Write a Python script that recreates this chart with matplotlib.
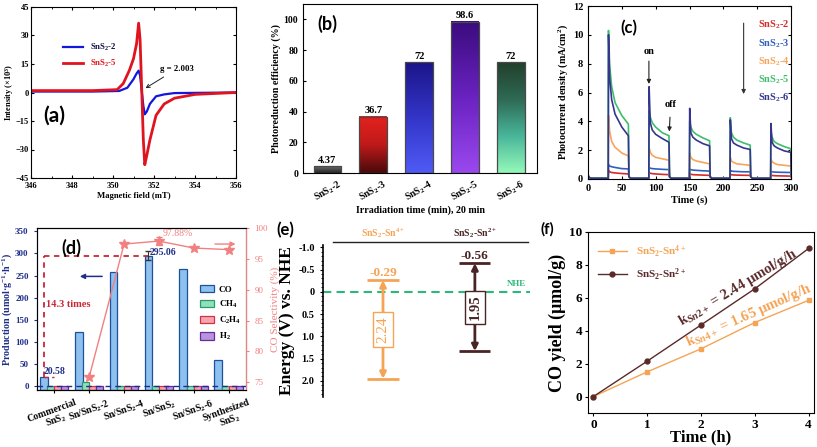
import numpy as np
import matplotlib
matplotlib.use('Agg')
import matplotlib.pyplot as plt
from matplotlib.colors import LinearSegmentedColormap
from matplotlib.ticker import MultipleLocator

plt.rcParams['font.family'] = ['Liberation Serif', 'DejaVu Serif']
plt.rcParams['font.weight'] = 'bold'
plt.rcParams['axes.labelweight'] = 'bold'
plt.rcParams['mathtext.fontset'] = 'custom'
plt.rcParams['mathtext.rm'] = 'Liberation Serif:bold'
plt.rcParams['mathtext.it'] = 'Liberation Serif:italic:bold'
plt.rcParams['mathtext.bf'] = 'Liberation Serif:bold'
plt.rcParams['xtick.direction'] = 'in'
plt.rcParams['ytick.direction'] = 'in'
plt.rcParams['axes.linewidth'] = 0.8
plt.rcParams['xtick.major.size'] = 2.5
plt.rcParams['ytick.major.size'] = 2.5
plt.rcParams['xtick.minor.size'] = 1.5
plt.rcParams['ytick.minor.size'] = 1.5

# ---------------- data ----------------
# (a) EPR spectra
epr_field_2 = [346, 349, 350.3, 350.7, 351.0, 351.15, 351.25, 351.32, 351.4, 351.48,
               351.55, 351.65, 351.8, 352.1, 352.5, 353, 356]
epr_int_2 = [0.5, 0.5, 0.8, 2.5, 7, 10, 11.5, 9, 1, -7, -11.5, -10, -6, -2, -1, -0.3, 0]
epr_field_5 = [346, 349, 350.2, 350.5, 350.8, 351.0, 351.15, 351.25, 351.32, 351.4,
               351.48, 351.55, 351.65, 351.8, 352.1, 352.5, 353, 354, 356]
epr_int_5 = [1, 1, 1.5, 4.7, 11.7, 17.8, 25.7, 36.5, 28, 2, -25, -38, -33, -25, -12,
             -6, -3, -1, 0]

# (b) photoreduction efficiency
b_labels = ['SnS$_2$-2', 'SnS$_2$-3', 'SnS$_2$-4', 'SnS$_2$-5', 'SnS$_2$-6']
b_values = [4.37, 36.7, 72, 98.6, 72]
b_value_text = ['4.37', '36.7', '72', '98.6', '72']
b_grads = [['#242424', '#4a4a4a', '#6a6a6a'],
           ['#4a0a0a', '#c01a1a', '#e3221e'],
           ['#4f5af5', '#3335c8', '#1c158a'],
           ['#9a48ee', '#6a22c0', '#3b0c7e'],
           ['#92f8b8', '#49b59a', '#2e6a55', '#22402c']]

# (c) transient photocurrent, light on at c_on for 30 s
c_names = ['SnS$_2$-2', 'SnS$_2$-3', 'SnS$_2$-4', 'SnS$_2$-5', 'SnS$_2$-6']
c_colors = ['#d42b2b', '#2f5fc0', '#f6a45e', '#3dbe6a', '#35358f']
c_on = [30, 90, 150, 210, 270]
c_offsets = [0.3, 2, 5, 10, 20, 29.7]
c_start_t = [0, 2, 5]
c_start_v = [0.25, 0.1, 0.05]
c_dark = 0.05
c_cycles = [
    [[0.6, 0.5, 0.45, 0.42, 0.38, 0.35], [0.45, 0.4, 0.37, 0.35, 0.32, 0.3],
     [0.38, 0.33, 0.3, 0.29, 0.27, 0.25], [0.32, 0.3, 0.28, 0.27, 0.26, 0.25],
     [0.28, 0.25, 0.23, 0.22, 0.21, 0.2]],
    [[1.0, 0.9, 0.85, 0.8, 0.72, 0.7], [0.8, 0.75, 0.72, 0.7, 0.67, 0.65],
     [0.7, 0.65, 0.62, 0.6, 0.57, 0.55], [0.6, 0.55, 0.53, 0.52, 0.5, 0.5],
     [0.55, 0.5, 0.48, 0.47, 0.46, 0.45]],
    [[4.4, 3.3, 2.6, 2.2, 1.8, 1.6], [2.2, 1.85, 1.65, 1.5, 1.4, 1.3],
     [1.8, 1.5, 1.35, 1.25, 1.15, 1.05], [1.5, 1.25, 1.15, 1.05, 1.0, 0.95],
     [1.4, 1.2, 1.1, 1.0, 0.95, 0.9]],
    [[10.3, 7.9, 6.4, 5.3, 4.4, 3.8], [4.8, 4.3, 3.9, 3.6, 3.2, 3.0],
     [4.0, 3.6, 3.3, 3.1, 2.85, 2.65], [4.25, 3.2, 2.9, 2.7, 2.5, 2.35],
     [3.3, 2.9, 2.6, 2.45, 2.25, 2.1]],
    [[10.0, 7.0, 5.5, 4.5, 3.6, 3.0], [6.4, 3.9, 3.4, 3.1, 2.8, 2.55],
     [4.9, 3.2, 2.9, 2.7, 2.45, 2.3], [4.1, 2.8, 2.5, 2.35, 2.15, 2.05],
     [3.85, 2.55, 2.3, 2.15, 1.95, 1.85]],
]

# (d) production rates and CO selectivity
d_cats = ['Commercial\nSnS$_2$', 'Sn/SnS$_2$-2', 'Sn/SnS$_2$-4', 'Sn/SnS$_2$',
          'Sn/SnS$_2$-6', 'Synthesized\nSnS$_2$']
d_co = [20.58, 122, 257, 295.06, 265, 59]
d_ch4 = [1, 10, 1, 1, 1, 1]
d_c2h4 = [1, 1, 1, 1, 1, 1]
d_h2 = [1, 1, 1, 1, 1, 1]
d_sel_idx = [1, 2, 3, 4, 5]
d_sel = [75.9, 97.4, 97.88, 96.75, 96.5]

# (e) band positions
e_names = ['SnS$_2$-Sn$^{4+}$', 'SnS$_2$-Sn$^{2+}$']
e_cb = [-0.26, -0.64]
e_vb = [1.95, 1.33]
e_cb_text = ['-0.29', '-0.56']
e_gap_text = ['2.24', '1.95']
e_colors = ['#f5a455', '#4a2424']

# (f) CO yield
f_time = [0, 1, 2, 3, 4]
f_sn4 = [0, 1.5, 2.9, 4.5, 5.85]
f_sn2 = [0, 2.15, 4.35, 6.55, 9.0]

# ---------------- figure ----------------
W, H = 817, 447
fig = plt.figure(figsize=(W / 100, H / 100), dpi=100)


def px_axes(l, t, r, b):
    return fig.add_axes([l / W, 1 - b / H, (r - l) / W, (b - t) / H])


letter_font = dict(family='Lato', fontweight='bold')

# ---- (a)
ax = px_axes(31, 7, 236, 178)
ax.plot(epr_field_2, epr_int_2, color='#1515e0', lw=1.6, label='SnS$_2$-2')
ax.plot(epr_field_5, epr_int_5, color='#e0141e', lw=2.0, label='SnS$_2$-5')
ax.set_xlim(346, 356)
ax.set_ylim(-45, 45)
ax.set_xticks(np.arange(346, 357, 2))
ax.set_yticks(np.arange(-45, 46, 15))
ax.xaxis.set_minor_locator(MultipleLocator(1))
ax.tick_params(labelsize=6, top=True, right=True, which='both', pad=1.5)
ax.tick_params(axis='x', pad=3)
ax.set_xlabel('Magnetic field (mT)', fontsize=6.2, labelpad=1)
ax.set_ylabel('Intensity (×10$^3$)', fontsize=6, labelpad=0)
ax.legend(loc='upper left', bbox_to_anchor=(0.12, 0.84), frameon=False, fontsize=6.3,
          handlelength=2.2, labelspacing=0.5, labelcolor=['#111144', '#e0141e'])
ax.annotate('g = 2.003', xy=(351.47, 1.5), xytext=(352.3, 12.5), fontsize=6.3,
            va='center', arrowprops=dict(arrowstyle='->', color='#222222', lw=0.7))
ax.text(346.6, -12, '(a)', fontsize=15, va='center', **letter_font)

# ---- (b)
ax = px_axes(303, 4, 537, 173)
xb = np.arange(len(b_values))
bars = ax.bar(xb, b_values, width=0.6, facecolor='none', edgecolor='#4a4a4a',
              linewidth=0.9, zorder=3)
for bar, cols in zip(bars, b_grads):
    cmap = LinearSegmentedColormap.from_list('g', cols)
    grad = np.linspace(0, 1, 64).reshape(-1, 1)
    ax.imshow(grad, cmap=cmap, origin='lower', aspect='auto', zorder=2,
              extent=[bar.get_x(), bar.get_x() + bar.get_width(), 0, bar.get_height()])
ax.bar_label(bars, labels=b_value_text, padding=1, fontsize=7.5)
ax.set_xlim(-0.53, 4.57)
ax.set_ylim(0, 110)
ax.set_xticks(xb)
ax.set_xticklabels(b_labels, rotation=30, ha='center', fontsize=7)
ax.set_yticks(np.arange(0, 101, 20))
ax.tick_params(axis='y', labelsize=7)
ax.set_xlabel('Irradiation time (min), 20 min', fontsize=7.2, labelpad=1)
ax.set_ylabel('Photoreduction efficiency (%)', fontsize=7.2, labelpad=2)
ax.text(0.06, 0.88, '(b)', transform=ax.transAxes, fontsize=13, va='center', **letter_font)

# ---- (c)
ax = px_axes(588, 6, 791, 179)
for name, col, cycles in zip(c_names, c_colors, c_cycles):
    t = list(c_start_t)
    y = list(c_start_v)
    for t0, vals in zip(c_on, cycles):
        t += [t0 - 0.1] + [t0 + o for o in c_offsets] + [t0 + 30.5, t0 + 33]
        y += [c_dark] + vals + [0.15, c_dark]
    ax.plot(t, y, color=col, lw=1.2, label=name)
ax.set_xlim(0, 300)
ax.set_ylim(0, 12)
ax.set_xticks(np.arange(0, 301, 50))
ax.set_yticks(np.arange(0, 13, 2))
ax.tick_params(labelsize=7.5, top=True, right=True)
ax.set_xlabel('Time (s)', fontsize=7.5, labelpad=2)
ax.set_ylabel('Photocurrent density (mA/cm$^2$)', fontsize=7.2, labelpad=2)
ax.legend(loc='upper left', bbox_to_anchor=(0.79, 0.98), frameon=False, fontsize=7.5,
          handlelength=0, handletextpad=0, labelspacing=0.55, labelcolor='linecolor')
ax.annotate('', xy=(230, 5.7), xytext=(230, 11.0),
            arrowprops=dict(arrowstyle='-|>', color='#333333', lw=0.8, mutation_scale=6))
ax.annotate('on', xy=(90, 6.4), xytext=(90, 8.7), fontsize=7.5, ha='center',
            arrowprops=dict(arrowstyle='-|>', color='#222222', lw=0.8, mutation_scale=6))
ax.annotate('off', xy=(120, 3.1), xytext=(122, 5.0), fontsize=7.5, ha='center',
            arrowprops=dict(arrowstyle='-|>', color='#222222', lw=0.8, mutation_scale=6,
                            shrinkA=4))
ax.text(60.5, 10.5, '(c)', fontsize=12, ha='center', va='center', **letter_font)

# ---- (d)
navy = '#1f2e8a'
salmon = '#f28080'
ax = px_axes(37, 228, 246, 390)
d_ybot = -9
xd = np.arange(len(d_cats))
series = [(d_co, 'CO', '#8ec1ee', '#1e50a0', -0.3, 0.22),
          (d_ch4, 'CH$_4$', '#8fe0bc', '#2e9a6a', -0.1, 0.2),
          (d_c2h4, 'C$_2$H$_4$', '#f6a6aa', '#d03050', 0.1, 0.2),
          (d_h2, 'H$_2$', '#b795dc', '#6a2aa0', 0.3, 0.2)]
for vals, lab, fc, ec, off, w in series:
    ax.bar(xd + off, np.array(vals) - d_ybot, bottom=d_ybot, width=w, color=fc,
           edgecolor=ec, linewidth=0.9, label=lab, zorder=2)
ax.errorbar(3 - 0.3, d_co[3], yerr=10, color='#333333', lw=0.8, capsize=2, zorder=3)
ax.axhline(0, ls='--', color=navy, lw=1.0, dashes=(4, 3), zorder=3)
ax.plot([-0.3, -0.3], [d_co[0], d_co[3]], ls='--', color='#c82838', lw=1.3, dashes=(3, 2.5))
ax.plot([-0.3, 2.7], [d_co[3], d_co[3]], ls='--', color='#c82838', lw=1.3, dashes=(3, 2.5))
ax.plot([-0.3, 0.0], [d_co[0], d_co[0]], ls='--', color='#c82838', lw=1.0, dashes=(3, 2.5))
ax.text(-0.25, 185, '14.3 times', color='#c82838', fontsize=7.5, va='center')
ax.text(-0.32, 32, '20.58', color=navy, fontsize=7, va='center')
ax.text(2.72, 303, '295.06', color=navy, fontsize=7, va='center')
ax.annotate('', xy=(0.65, 248), xytext=(1.45, 248),
            arrowprops=dict(arrowstyle='-|>', color=navy, lw=1.1, mutation_scale=7))
ax.text(0.5, 312, '(d)', fontsize=13, ha='center', va='center', **letter_font)
ax.set_xlim(-0.5, 5.5)
ax.set_ylim(d_ybot, 357.5)
ax.set_xticks(xd)
ax.set_xticklabels(d_cats, rotation=20, ha='center', fontsize=7, linespacing=1.0)
ax.set_yticks(np.arange(0, 351, 50))
ax.tick_params(axis='y', labelsize=6.5, colors=navy, direction='out')
ax.tick_params(axis='x', direction='out', length=2)
ax.spines['left'].set_color(navy)
ax.set_ylabel('Production (umol·g$^{-1}$·h$^{-1}$)', fontsize=7.2, color=navy, labelpad=1)
ax.legend(loc='upper left', bbox_to_anchor=(0.74, 0.70), frameon=False, fontsize=6.5,
          handlelength=1.6, handleheight=0.9, labelspacing=0.55, handletextpad=0.5)
ax2 = ax.twinx()
ax2.plot(d_sel_idx, d_sel, color=salmon, lw=1.0, marker='*', markersize=7)
ax2.errorbar(d_sel_idx[2], d_sel[2], yerr=0.6, color=salmon, lw=0.8, capsize=2)
ax2.text(3.12, 99.05, '97.88%', color=salmon, fontsize=7, va='center', fontweight='normal')
ax2.annotate('', xy=(5.28, 97.4), xytext=(4.53, 97.4),
             arrowprops=dict(arrowstyle='-|>', color=salmon, lw=1.0, mutation_scale=7))
ax2.set_ylim(73.75, 100)
ax2.set_yticks(np.arange(75, 101, 5))
ax2.tick_params(axis='y', labelsize=6.5, colors=salmon, direction='out')
for lbl in ax2.get_yticklabels():
    lbl.set_fontweight('normal')
ax2.spines['right'].set_color(salmon)
ax2.set_ylabel('CO Selectivity (%)', fontsize=8, color=salmon, fontweight='normal',
               labelpad=2)

# ---- (e)
ax = px_axes(323, 245, 530, 397)
for i, (name, col) in enumerate(zip(e_names, e_colors)):
    ax.hlines([e_cb[i], e_vb[i]], i - 0.17, i + 0.17, color=col, lw=2)
    ax.annotate('', xy=(i, e_cb[i]), xytext=(i, e_vb[i]),
                arrowprops=dict(arrowstyle='<|-|>', color=col, lw=2, mutation_scale=9,
                                shrinkA=0, shrinkB=0))
    mid = (e_cb[i] + e_vb[i]) / 2
    ax.text(i, mid, e_gap_text[i], rotation=90, ha='center', va='center', color=col,
            fontsize=11 if i == 0 else 10.5, fontweight='normal' if i == 0 else 'bold',
            bbox=dict(boxstyle='square,pad=0.25', fc='white', ec=col, lw=1))
    ax.text(i, e_cb[i] - 0.16, e_cb_text[i], ha='center', va='center', color=col,
            fontsize=9.5)
    ax.text(i, 1.079, name, transform=ax.get_xaxis_transform(), ha='center',
            va='center', color=col, fontsize=7)
ax.plot([-0.545, 1.58], [1.02, 1.02], transform=ax.get_xaxis_transform(),
        color='#222222', lw=1.0, clip_on=False)
ax.axhline(0, ls='--', color='#2db87a', lw=1.5, dashes=(4, 2.5))
ax.text(1.45, -0.17, 'NHE', color='#2db87a', fontsize=6.5, ha='center', va='center')
ax.set_xlim(-0.653, 1.6)
ax.set_ylim(2.36, -1.05)
ax.set_yticks([-1.0, -0.5, 0, 0.5, 1.0, 1.5, 2.0])
ax.set_yticklabels(['-1.0', '-0.5', '0', '0.5', '1.0', '1.5', '2.0'])
ax.yaxis.set_minor_locator(MultipleLocator(0.1))
ax.tick_params(axis='y', labelsize=7.5, direction='out', which='both')
ax.set_xticks([])
for s in ['top', 'right', 'bottom']:
    ax.spines[s].set_visible(False)
ax.spines['left'].set_linewidth(1.2)
ax.set_ylabel('Energy (V) vs. NHE', fontsize=12.5, labelpad=2)
fig.text(285 / W, 1 - 230 / H, '(e)', fontsize=12, ha='center', va='center', **letter_font)

# ---- (f)
orange = '#f5a455'
brown = '#5a2a2a'
ax = px_axes(588, 232, 814, 413)
ax.plot(f_time, f_sn4, color=orange, lw=1.0, marker='s', markersize=3.2,
        label='SnS$_2$-Sn$^{4+}$')
ax.plot(f_time, f_sn2, color=brown, lw=1.0, marker='o', markersize=3.5,
        label='SnS$_2$-Sn$^{2+}$')
ax.set_xlim(-0.1, 4.1)
ax.set_ylim(-1, 10)
ax.set_xticks(f_time)
ax.set_yticks(np.arange(0, 11, 2))
ax.tick_params(labelsize=9.5, direction='out', pad=1.5)
ax.set_xlabel('Time (h)', fontsize=12, labelpad=-1)
ax.set_ylabel('CO yield (μmol/g)', fontsize=13, labelpad=2)
ax.legend(loc='upper left', bbox_to_anchor=(0.0, 0.99), frameon=False, fontsize=8,
          handlelength=2.6, labelspacing=0.6, labelcolor='linecolor')
ax.text(2.68, 6.6, 'k$_{Sn2+}$ = 2.44 μmol/g/h', color=brown, fontsize=10.5,
        rotation=31, ha='center', va='center', rotation_mode='anchor')
ax.text(2.88, 4.9, 'k$_{Sn4+}$ = 1.65 μmol/g/h', color=orange, fontsize=10.5,
        rotation=24, ha='center', va='center', rotation_mode='anchor')
fig.text(547 / W, 1 - 229 / H, '(f)', fontsize=11, ha='center', va='center', **letter_font)

fig.savefig('out.png', dpi=100)
